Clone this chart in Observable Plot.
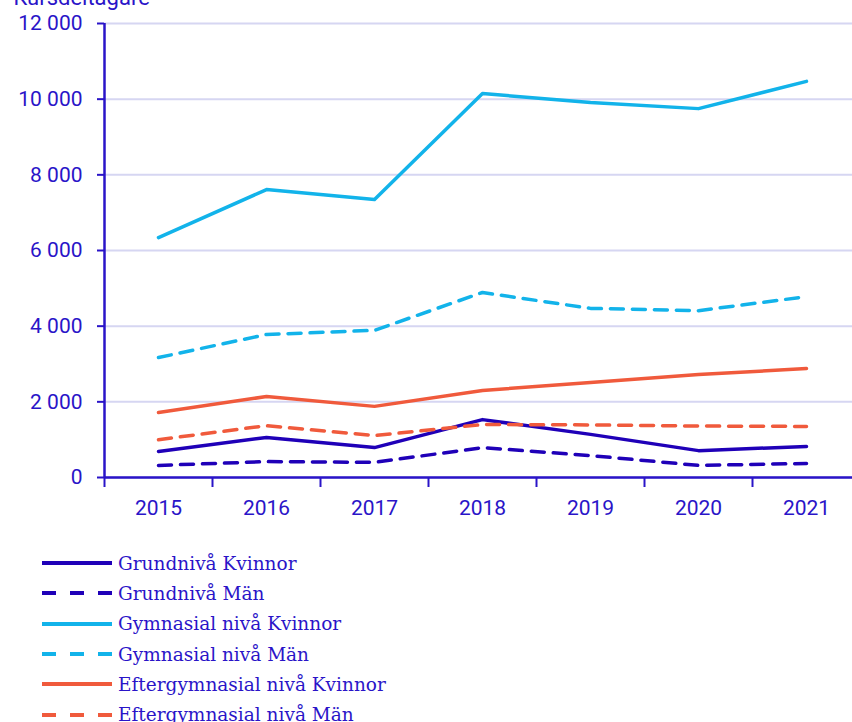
<!DOCTYPE html>
<html>
<head>
<meta charset="utf-8">
<script src="https://cdn.jsdelivr.net/npm/d3@7"></script>
<script src="https://cdn.jsdelivr.net/npm/@observablehq/plot@0.6"></script>
<style>
  html, body { margin: 0; padding: 0; background: #fff; overflow: hidden; }
  #chart { width: 852px; }
  .legend { margin-top: 18px; font-family: "DejaVu Serif", serif; font-size: 18.5px; color: #2a14c8; }
  .legend .row { display: flex; align-items: center; height: 30.3px; }
  .legend svg { margin-left: 42px; margin-right: 6px; }
</style>
</head>
<body>
<div id="chart"></div>
<script>
const years = [2015, 2016, 2017, 2018, 2019, 2020, 2021];
const seriesNames = [
  "Grundnivå Kvinnor",
  "Grundnivå Män",
  "Gymnasial nivå Kvinnor",
  "Gymnasial nivå Män",
  "Eftergymnasial nivå Kvinnor",
  "Eftergymnasial nivå Män"
];
const grundKvinnor = [690, 1060, 790, 1530, 1140, 710, 820];
const grundMan = [320, 420, 400, 790, 580, 320, 370];
const gymnKvinnor = [6340, 7610, 7350, 10150, 9910, 9750, 10470];
const gymnMan = [3170, 3780, 3890, 4890, 4470, 4410, 4780];
const efterKvinnor = [1720, 2140, 1880, 2300, 2510, 2720, 2880];
const efterMan = [1000, 1370, 1110, 1400, 1390, 1360, 1350];
const seriesValues = [grundKvinnor, grundMan, gymnKvinnor, gymnMan, efterKvinnor, efterMan];
const seriesColors = ["#1f00b8", "#1f00b8", "#12b3ea", "#12b3ea", "#f05a3c", "#f05a3c"];
const seriesDashed = [false, true, false, true, false, true];
const yTicks = [0, 2000, 4000, 6000, 8000, 10000, 12000];
const yTitle = "Kursdeltagare";

const axisColor = "#2a14c8";
const data = [];
seriesNames.forEach((name, i) => {
  years.forEach((yr, j) => data.push({series: name, year: yr, value: seriesValues[i][j], idx: i}));
});
const edges = [years[0] - 0.5, ...years.map(y => y + 0.5)];
const fmt = d => d3.format(",")(d).replace(/,/g, " ");

const marks = [
  Plot.gridY(yTicks, {stroke: "#d6d6f2", strokeOpacity: 1, strokeWidth: 2}),
];
seriesNames.forEach((name, i) => {
  marks.push(Plot.line(data.filter(d => d.idx === i), {
    x: "year", y: "value", stroke: seriesColors[i], strokeWidth: 3.5,
    strokeDasharray: seriesDashed[i] ? "13,9" : null
  }));
});
marks.push(
  Plot.axisY({ticks: yTicks, tickFormat: fmt, tickSize: 7, tickPadding: 15, stroke: axisColor, strokeWidth: 2, label: null, fill: axisColor}),
  Plot.axisX({ticks: edges, tickFormat: () => "", tickSize: 10, stroke: axisColor, strokeWidth: 2, label: null}),
  Plot.axisX({ticks: years, tickFormat: d => String(d), tickSize: 0, tickPadding: 23, label: null, fill: axisColor}),
  Plot.ruleX([edges[0]], {stroke: axisColor, strokeWidth: 2.5}),
  Plot.ruleY([0], {stroke: axisColor, strokeWidth: 2.5}),
  Plot.text([yTitle], {frameAnchor: "top-left", dx: -91, dy: -19, textAnchor: "start", lineAnchor: "bottom", fill: axisColor, fontSize: 22})
);

const chart = Plot.plot({
  width: 852,
  height: 530,
  marginLeft: 104,
  marginRight: 0,
  marginTop: 23,
  marginBottom: 53,
  style: {fontFamily: "Roboto", fontSize: "21px", color: axisColor, background: "white"},
  x: {domain: [edges[0], edges[edges.length - 1]], range: [104, 860]},
  y: {domain: [0, 12000], range: [477, 23]},
  marks
});
document.getElementById("chart").appendChild(chart);

const legend = document.createElement("div");
legend.className = "legend";
seriesNames.forEach((name, i) => {
  const row = document.createElement("div");
  row.className = "row";
  const sw = d3.create("svg").attr("width", 70).attr("height", 8);
  sw.append("line").attr("x1", 0).attr("x2", 70).attr("y1", 4).attr("y2", 4)
    .attr("stroke", seriesColors[i]).attr("stroke-width", 4)
    .attr("stroke-dasharray", seriesDashed[i] ? "14,14" : null);
  row.appendChild(sw.node());
  const label = document.createElement("span");
  label.textContent = name;
  row.appendChild(label);
  legend.appendChild(row);
});
document.getElementById("chart").appendChild(legend);
</script>
</body>
</html>
